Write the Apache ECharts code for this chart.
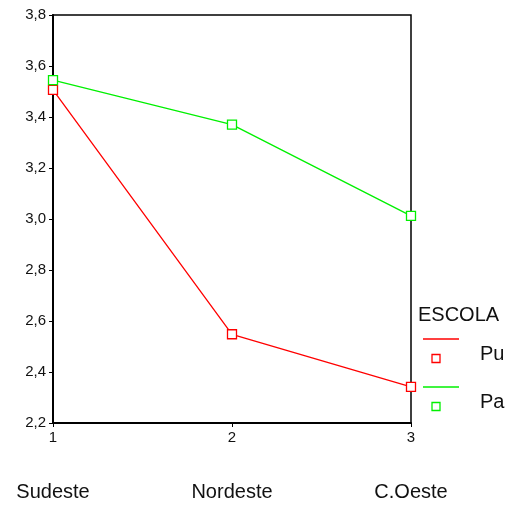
<!DOCTYPE html>
<html>
<head>
<meta charset="utf-8">
<script src="https://cdn.jsdelivr.net/npm/echarts@6/dist/echarts.min.js"></script>
<style>html,body{margin:0;padding:0;background:#fff}#c{width:515px;height:508px}</style>
</head>
<body>
<div id="c"></div>
<script>
const categories = ['Sudeste', 'Nordeste', 'C.Oeste'];
const xTickLabels = ['1', '2', '3'];
const seriesNames = ['Pu', 'Pa'];
const puValues = [3.506, 2.548, 2.342];
const paValues = [3.545, 3.370, 3.012];
const legendTitle = 'ESCOLA';

const RED = '#ff0000', GREEN = '#00f000';
const font = 'Liberation Sans, Arial, sans-serif';
const chart = echarts.init(document.getElementById('c'));

function legendItem(y, color, name) {
  return [
    { type: 'line', shape: { x1: 423, y1: y, x2: 459, y2: y }, style: { stroke: color, lineWidth: 1.3 } },
    { type: 'rect', shape: { x: 432, y: y + 15.5, width: 8, height: 8 }, style: { fill: '#fff', stroke: color, lineWidth: 1.3 } },
    { type: 'text', style: { x: 480, y: y + 15, text: name, font: '20px ' + font, fill: '#111', textVerticalAlign: 'middle' } }
  ];
}

chart.setOption({
  animation: false,
  backgroundColor: '#fff',
  grid: { left: 53, right: 104, top: 15, bottom: 85, show: true, borderColor: '#000', borderWidth: 1.5 },
  xAxis: {
    type: 'category',
    data: categories,
    boundaryGap: false,
    axisLine: { lineStyle: { color: '#000', width: 2 } },
    axisTick: { alignWithLabel: true, length: 4, lineStyle: { color: '#000' } },
    axisLabel: {
      margin: 7,
      formatter: (v, i) => '{n|' + xTickLabels[i] + '}\n{c|' + v + '}',
      rich: {
        n: { fontSize: 15, fontFamily: font, color: '#111', lineHeight: 16 },
        c: { fontSize: 20, fontFamily: font, color: '#111', lineHeight: 24, padding: [68, 0, 0, 0] }
      }
    },
    splitLine: { show: false }
  },
  yAxis: {
    type: 'value',
    min: 2.2, max: 3.8, interval: 0.2,
    axisLine: { show: true, lineStyle: { color: '#000', width: 2 } },
    axisTick: { show: true, length: 4, lineStyle: { color: '#000' } },
    axisLabel: { fontSize: 15, fontFamily: font, color: '#111', margin: 7, formatter: v => v.toFixed(1).replace('.', ',') },
    splitLine: { show: false }
  },
  series: [
    { name: seriesNames[0], type: 'line', data: puValues, symbol: 'rect', symbolSize: 9,
      lineStyle: { color: RED, width: 1.3 }, itemStyle: { color: '#fff', borderColor: RED, borderWidth: 1.3 } },
    { name: seriesNames[1], type: 'line', data: paValues, symbol: 'rect', symbolSize: 9,
      lineStyle: { color: GREEN, width: 1.3 }, itemStyle: { color: '#fff', borderColor: GREEN, borderWidth: 1.3 } }
  ],
  graphic: [
    { type: 'text', style: { x: 418, y: 315, text: legendTitle, font: '20px ' + font, fill: '#111', textVerticalAlign: 'middle' } },
    ...legendItem(339, RED, seriesNames[0]),
    ...legendItem(387, GREEN, seriesNames[1])
  ]
});
</script>
</body>
</html>
